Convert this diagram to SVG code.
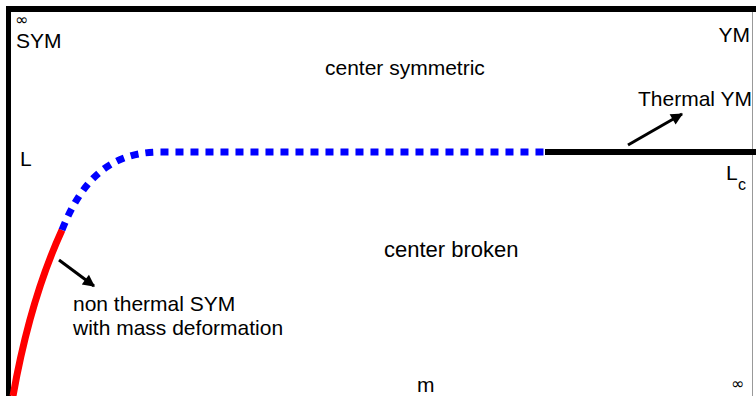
<svg xmlns="http://www.w3.org/2000/svg" width="756" height="396" viewBox="0 0 756 396">
<defs>
<style>
text{font-family:"Liberation Sans",Arial,sans-serif;font-size:21px;fill:#000}
.sm{font-family:"DejaVu Sans",sans-serif;font-size:16px}
.sub{font-size:16px}
.arrow{stroke:#000;stroke-width:3;fill:none}
</style>
<marker id="ah" viewBox="0 0 10 10" refX="9" refY="5" markerWidth="4.5" markerHeight="4" markerUnits="strokeWidth" orient="auto">
<path d="M0,0 L10,5 L0,10 z" fill="#000"/>
</marker>
</defs>
<rect width="756" height="396" fill="#fff"/>
<g id="frame">
<line x1="752.5" y1="9" x2="752.5" y2="396" stroke="#999" stroke-width="1"/>
<line x1="6" y1="9" x2="756" y2="9" stroke="#000" stroke-width="6"/>
<line x1="8.5" y1="6" x2="8.5" y2="396" stroke="#000" stroke-width="5"/>
</g>
<g id="connectors">
<path id="red-curve" d="M13,396 Q30,300 62,230" stroke="#ff0000" stroke-width="7" fill="none"/>
<path id="blue-curve" d="M62,230 C82,180 110,152 160,152 L545,152" stroke="#0000ff" stroke-width="7" fill="none" stroke-dasharray="8 7"/>
<line id="black-line" x1="545" y1="152" x2="756" y2="152" stroke="#000" stroke-width="6"/>
<line class="arrow" x1="628" y1="145" x2="682" y2="114" marker-end="url(#ah)"/>
<line class="arrow" x1="59" y1="260" x2="94" y2="286" marker-end="url(#ah)"/>
</g>
<g id="labels">
<text class="sm" x="15" y="25">∞</text>
<text x="16" y="48">SYM</text>
<text x="750" y="42" text-anchor="end">YM</text>
<text x="325" y="75">center symmetric</text>
<text x="638" y="106">Thermal YM</text>
<text x="20" y="166">L</text>
<text x="726" y="180">L</text>
<text class="sub" x="738" y="190">c</text>
<text x="384" y="257" style="font-size:22px">center broken</text>
<text x="73" y="311">non thermal SYM</text>
<text x="73" y="335">with mass deformation</text>
<text x="417" y="392">m</text>
<text class="sm" x="731" y="389">∞</text>
</g>
</svg>
